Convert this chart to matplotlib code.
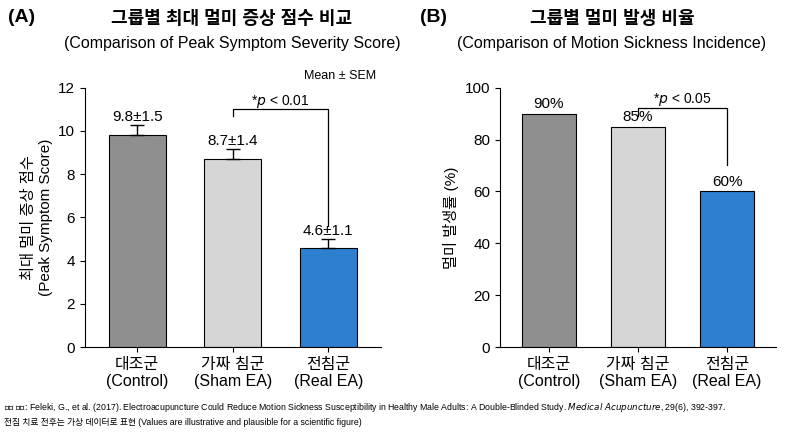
import matplotlib.pyplot as plt
import numpy as np

plt.rcParams['font.family'] = ['Liberation Sans', 'Noto Sans CJK KR']

groups = ["대조군\n(Control)", "가짜 침군\n(Sham EA)", "전침군\n(Real EA)"]
scores = [9.8, 8.7, 4.6]
sems = [1.5, 1.4, 1.1]
err_shown = [0.45, 0.45, 0.4]
incidence = [90, 85, 60]
colors = ["#8f8f8f", "#d6d6d6", "#2f7fd0"]

fig = plt.figure(figsize=(8, 4.36), dpi=100)
ax1 = fig.add_axes([0.106, 0.204, 0.37, 0.595])
ax2 = fig.add_axes([0.625, 0.204, 0.345, 0.595])
x = np.arange(3)

# panel A
ax1.bar(x, scores, width=0.6, color=colors, edgecolor="black", linewidth=0.8)
ax1.errorbar(x, scores, yerr=[[0, 0, 0], err_shown], fmt="none", ecolor="black", capsize=5, lw=1)
for i in range(3):
    ax1.text(x[i], scores[i] + err_shown[i] + 0.2, f"{scores[i]}±{sems[i]}", ha="center", fontsize=11)
ax1.plot([1, 1, 2, 2], [10.7, 11.0, 11.0, 5.6], color="black", lw=0.9)
ax1.text(1.5, 11.2, "*$p$ < 0.01", ha="center", fontsize=10)
ax1.text(2.5, 12.4, "Mean ± SEM", ha="right", fontsize=9)
ax1.set_ylim(0, 12)
ax1.set_yticks(range(0, 13, 2))
ax1.set_ylabel("최대 멀미 증상 점수\n(Peak Symptom Score)", fontsize=11)
fig.text(0.01, 0.95, "(A)", fontsize=14, fontweight="bold")
fig.text(0.29, 0.945, "그룹별 최대 멀미 증상 점수 비교", ha="center", fontsize=13, fontweight="bold")
fig.text(0.29, 0.89, "(Comparison of Peak Symptom Severity Score)", ha="center", fontsize=11.5)

# panel B
ax2.bar(x, incidence, width=0.6, color=colors, edgecolor="black", linewidth=0.8)
for i in range(3):
    ax2.text(x[i], incidence[i] + 2, f"{incidence[i]}%", ha="center", fontsize=11)
ax2.plot([1, 1, 2, 2], [89, 92, 92, 70], color="black", lw=0.9)
ax2.text(1.5, 94, "*$p$ < 0.05", ha="center", fontsize=10)
ax2.set_ylim(0, 100)
ax2.set_yticks(range(0, 101, 20))
ax2.set_ylabel("멀미 발생률 (%)", fontsize=11)
fig.text(0.525, 0.95, "(B)", fontsize=14, fontweight="bold")
fig.text(0.765, 0.945, "그룹별 멀미 발생 비율", ha="center", fontsize=13, fontweight="bold")
fig.text(0.765, 0.89, "(Comparison of Motion Sickness Incidence)", ha="center", fontsize=11.5)

for ax in (ax1, ax2):
    ax.set_xticks(x)
    ax.set_xticklabels(groups, fontsize=11.5)
    ax.set_xlim(-0.55, 2.55)
    ax.spines["top"].set_visible(False)
    ax.spines["right"].set_visible(False)
    ax.tick_params(axis="y", labelsize=11)

fig.text(0.005, 0.06, "참고 문헌: Feleki, G., et al. (2017). Electroacupuncture Could Reduce Motion Sickness Susceptibility in Healthy Male Adults: A Double-Blinded Study. "
         "$\\it{Medical\\ Acupuncture}$, 29(6), 392-397.", fontsize=6.3)
fig.text(0.005, 0.025, "전침 치료 전후는 가상 데이터로 표현 (Values are illustrative and plausible for a scientific figure)", fontsize=6.3)

fig.savefig("out.png")
